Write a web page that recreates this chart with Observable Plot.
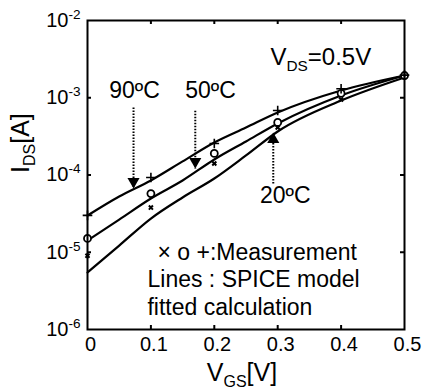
<!DOCTYPE html>
<html><head><meta charset="utf-8">
<script src="https://cdn.jsdelivr.net/npm/d3@7"></script>
<script src="https://cdn.jsdelivr.net/npm/@observablehq/plot@0.6"></script>
<style>
html,body{margin:0;padding:0;background:#fff;}
#chart svg{display:block;}
</style></head><body><div id="chart"></div>
<script>
// ---- data ----
const vgsCurve = [0, 0.05, 0.1, 0.15, 0.2, 0.25, 0.3, 0.4, 0.5];
const fit90 = [2.99e-5, 5.27e-5, 8.5e-5, 1.50e-4, 2.64e-4, 4.12e-4, 6.44e-4, 1.24e-3, 1.94e-3];
const fit50 = [1.42e-5, 2.65e-5, 4.97e-5, 8.5e-5, 1.59e-4, 2.72e-4, 4.65e-4, 1.07e-3, 1.94e-3];
const fit20 = [5.47e-6, 1.22e-5, 2.73e-5, 5.12e-5, 9.0e-5, 1.79e-4, 3.66e-4, 9.2e-4, 1.83e-3];

const vgsMeas = [0, 0.1, 0.2, 0.3, 0.4, 0.5];
const meas90 = [3.0e-5, 9.3e-5, 2.56e-4, 6.84e-4, 1.31e-3, 1.96e-3];   // +
const meas50 = [1.51e-5, 5.75e-5, 1.90e-4, 4.79e-4, 1.14e-3, 1.94e-3]; // o
const meas20 = [9e-6, 3.79e-5, 1.41e-4, 4.12e-4, 9.5e-4, 1.86e-3];     // x

const xTicks = [0, 0.1, 0.2, 0.3, 0.4, 0.5];
const xTickLabels = ["0", "0.1", "0.2", "0.3", "0.4", "0.5"];
const yTicks = [1e-6, 1e-5, 1e-4, 1e-3, 1e-2];
const yTickLabels = ["10^{-6}", "10^{-5}", "10^{-4}", "10^{-3}", "10^{-2}"];

const xTitle = "V_{GS}[V]";
const yTitle = "I_{DS}[A]";

// annotation labels (data coordinates, baseline)
const tempLabels = ["90ºC", "50ºC", "20ºC"];
const tempLabelX = [0.0741, 0.194, 0.312];
const tempLabelY = [1.0e-3, 1.0e-3, 4.4e-5];
// arrows: x, tail y, tip y
const arrowX = [0.0726, 0.170, 0.293];
const arrowTail = [7.48e-4, 6.8e-4, 7.76e-5];
const arrowTip = [6.7e-5, 1.21e-4, 3.55e-4];
const arrowDown = [true, true, false];

const noteLines = ["V_{DS}=0.5V", "× o +:Measurement", "Lines : SPICE model", "fitted calculation"];
const noteX = [0.2886, 0.1104, 0.0946, 0.0946];
const noteY = [2.67e-3, 8.0e-6, 3.5e-6, 1.56e-6];
const noteSize = [24, 23, 23, 23];

// ---- tables ----
const curves = [
  ...vgsCurve.map((v, i) => ({v, i: fit90[i], s: "90"})),
  ...vgsCurve.map((v, i) => ({v, i: fit50[i], s: "50"})),
  ...vgsCurve.map((v, i) => ({v, i: fit20[i], s: "20"}))
];
const m90 = vgsMeas.map((v, i) => ({v, i: meas90[i]}));
const m50 = vgsMeas.map((v, i) => ({v, i: meas50[i]}));
const m20 = vgsMeas.map((v, i) => ({v, i: meas20[i]}));
const arrows = arrowX.map((x, k) => ({x, y1: arrowTail[k], y2: arrowTip[k], down: arrowDown[k]}));
const temps = tempLabels.map((t, k) => ({t, x: tempLabelX[k], y: tempLabelY[k]}));
const notes = noteLines.map((t, k) => ({t, x: noteX[k], y: noteY[k], fs: noteSize[k]}));

const W = 427, H = 391, mL = 87, mR = 23, mT = 20, mB = 62;
const iW = W - mL - mR, iH = H - mT - mB;
const tk = 4;

const plot = Plot.plot({
  width: W, height: H,
  marginLeft: mL, marginRight: mR, marginTop: mT, marginBottom: mB,
  style: {fontFamily: "'Liberation Sans', Arial, sans-serif", fontSize: "20px", color: "#000", background: "#fff"},
  x: {domain: [0, 0.5]},
  y: {type: "log", domain: [1e-6, 1e-2]},
  marks: [
    Plot.axisX({ticks: xTicks, tickSize: 0, tickPadding: 7, dx: 3, fontSize: 20,
      tickFormat: d => xTickLabels[xTicks.indexOf(d)], label: null}),
    Plot.axisY({ticks: yTicks, tickSize: 0, tickPadding: 7, fontSize: 20,
      tickFormat: d => yTickLabels[yTicks.indexOf(d)], label: null}),
    // inward ticks
    Plot.tickX(xTicks.slice(1, -1), {x: d => d, stroke: "#000", strokeWidth: 2, insetTop: iH - tk}),
    Plot.tickX(xTicks.slice(1, -1), {x: d => d, stroke: "#000", strokeWidth: 2, insetBottom: iH - tk}),
    Plot.tickY(yTicks.slice(1, -1), {y: d => d, stroke: "#000", strokeWidth: 2, insetRight: iW - tk}),
    Plot.tickY(yTicks.slice(1, -1), {y: d => d, stroke: "#000", strokeWidth: 2, insetLeft: iW - tk}),
    // fitted curves
    Plot.line(curves, {x: "v", y: "i", z: "s", stroke: "#000", strokeWidth: 2.2, curve: "monotone-x"}),
    // measurements
    Plot.dot(m20, {x: "v", y: "i", symbol: "times", r: 2, stroke: "#000", strokeWidth: 2}),
    Plot.dot(m50, {x: "v", y: "i", symbol: "circle", r: 3.5, stroke: "#000", strokeWidth: 1.8, fill: "#fff"}),
    Plot.dot(m90, {x: "v", y: "i", symbol: "plus", r: 3.2, stroke: "#000", strokeWidth: 1.6}),
    // arrows
    Plot.link(arrows, {x1: "x", x2: "x", y1: "y1", y2: "y2", stroke: "#000", strokeWidth: 2, strokeDasharray: "1.6,1.4"}),
    Plot.dot(arrows.filter(a => a.down), {x: "x", y: "y2", symbol: "triangle", r: 4.5, rotate: 180, dy: -7, fill: "#000", stroke: "none"}),
    Plot.dot(arrows.filter(a => !a.down), {x: "x", y: "y2", symbol: "triangle", r: 4.5, dy: 7, fill: "#000", stroke: "none"}),
    // temperature labels
    Plot.text(temps, {x: "x", y: "y", text: "t", fontSize: 23, lineAnchor: "bottom", textAnchor: "middle", fill: "#000"}),
    // notes
    Plot.text(notes, {x: "x", y: "y", text: "t", fontSize: d => d.fs, lineAnchor: "bottom", textAnchor: "start", fill: "#000"}),
    // axis titles
    Plot.text([xTitle], {frameAnchor: "bottom", text: d => d, fontSize: 25, lineAnchor: "bottom", dy: 51, dx: -4, fill: "#000"}),
    Plot.text([yTitle], {frameAnchor: "left", text: d => d, fontSize: 25, rotate: -90, dx: -67, dy: -2, fill: "#000"}),
    Plot.frame({stroke: "#000", strokeWidth: 2})
  ]
});
document.getElementById("chart").appendChild(plot);

// rich text: _{sub} and ^{sup} -> tspans
d3.select(plot).selectAll("text").each(function () {
  const t = this.textContent;
  if (!/[_^]\{/.test(t)) return;
  const fs = parseFloat(getComputedStyle(this).fontSize) || 20;
  const parts = [];
  const re = /([_^])\{([^}]*)\}/g;
  let last = 0, m;
  while ((m = re.exec(t))) {
    if (m.index > last) parts.push({s: t.slice(last, m.index)});
    parts.push({s: m[2], k: m[1]});
    last = re.lastIndex;
  }
  if (last < t.length) parts.push({s: t.slice(last)});
  this.textContent = "";
  let shift = 0;
  for (const p of parts) {
    const ts = d3.select(this).append("tspan").text(p.s);
    const target = p.k === "_" ? 0.24 * fs : p.k === "^" ? -0.4 * fs : 0;
    if (target !== shift) ts.attr("dy", target - shift);
    shift = target;
    if (p.k) ts.attr("font-size", (p.k === "_" ? 0.64 : 0.68) * fs);
  }
});
</script></body></html>
